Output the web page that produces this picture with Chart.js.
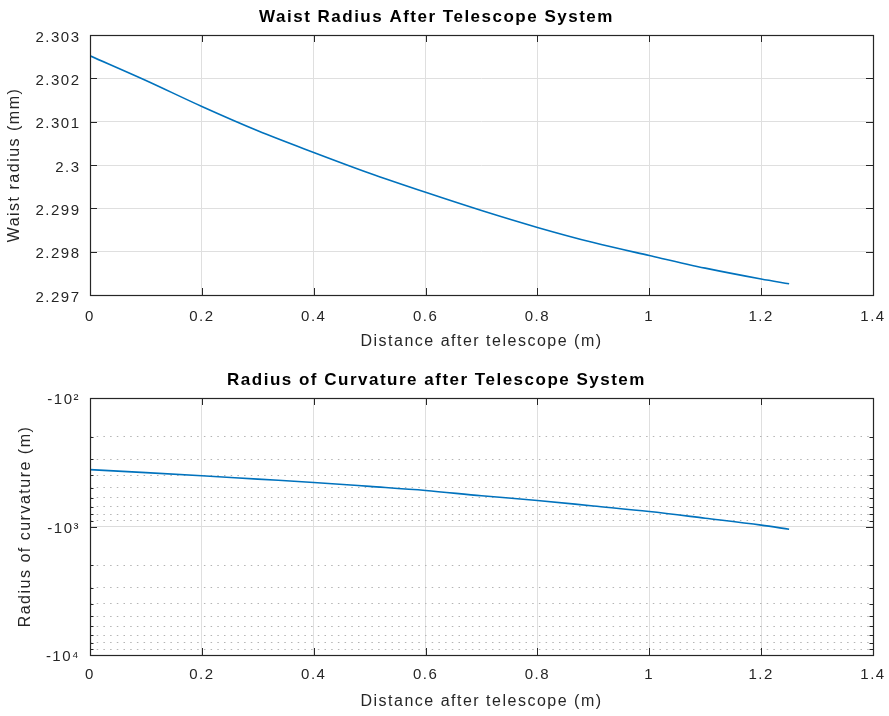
<!DOCTYPE html>
<html><head><meta charset="utf-8">
<script src="https://cdn.jsdelivr.net/npm/chart.js@4.4.1/dist/chart.umd.min.js"></script>
<style>
html,body{margin:0;padding:0;background:#fff;}
.box{position:absolute;left:0;width:889px;height:358px;}
</style></head><body>
<div class="box" style="top:0"><canvas id="c1"></canvas></div>
<div class="box" style="top:358px"><canvas id="c2"></canvas></div>
<script>
// ---- data ----
const distance = [0, 0.1, 0.2, 0.3, 0.4, 0.5, 0.6, 0.7, 0.8, 0.9, 1.0, 1.1, 1.2, 1.25];
const waistRadius = [2.30252, 2.30195, 2.30135, 2.30079, 2.30029, 2.29981, 2.29937, 2.29895, 2.29856, 2.29821, 2.29791, 2.29762, 2.29737, 2.29726];
const curvatureRadius = [-361, -381, -403, -428, -454, -487, -524, -577, -627, -692, -764, -862, -976, -1050];
const xTicks = [0, 0.2, 0.4, 0.6, 0.8, 1, 1.2, 1.4];
const waistTicks = [2.297, 2.298, 2.299, 2.3, 2.301, 2.302, 2.303];
const curvatureTicks = [-100, -200, -300, -400, -500, -600, -700, -800, -900,
                        -1000, -2000, -3000, -4000, -5000, -6000, -7000, -8000, -9000, -10000];
const curvatureMajor = [-100, -1000, -10000];
const curvatureLabels = ['-10\u00B2', '-10\u00B3', '-10\u2074'];

const FONT = "'Liberation Sans', Helvetica, Arial, sans-serif";
const TXT = '#262626';
const fmt = v => String(Number(v.toFixed(4)));

const matlabFrame = {
  id: 'matlabFrame',
  beforeDraw(chart) { chart.ctx.letterSpacing = '1.5px'; },
  afterDraw(chart) {
    const {ctx, chartArea: a, scales} = chart;
    const x = scales.x, y = scales.y;
    ctx.save();
    ctx.strokeStyle = '#262626';
    ctx.lineWidth = 1;
    ctx.beginPath();
    x.ticks.forEach(t => {
      if (t.value <= x.min || t.value >= x.max) return;
      const px = Math.round(x.getPixelForValue(t.value)) + 0.5;
      ctx.moveTo(px, a.top); ctx.lineTo(px, a.top + 7);
      ctx.moveTo(px, a.bottom); ctx.lineTo(px, a.bottom - 7);
    });
    y.ticks.forEach(t => {
      if (t.value <= y.min || t.value >= y.max) return;
      const py = Math.round(y.getPixelForValue(t.value)) + 0.5;
      const len = (y.type === 'logarithmic' && !t.major) ? 3.5 : 7;
      ctx.moveTo(a.left, py); ctx.lineTo(a.left + len, py);
      ctx.moveTo(a.right, py); ctx.lineTo(a.right - len, py);
    });
    ctx.stroke();
    ctx.lineWidth = 1.2;
    ctx.strokeRect(Math.round(a.left) + 0.5, Math.round(a.top) + 0.5,
                   Math.round(a.right - a.left), Math.round(a.bottom - a.top));
    ctx.restore();
  }
};

function xScale(tickPad, titlePadBottom, axisHeight) {
  return {
    type: 'linear', min: 0, max: 1.4,
    afterBuildTicks: s => { s.ticks = xTicks.map(v => ({value: v})); },
    afterFit: s => { s.height = axisHeight; s.paddingLeft = 0; s.paddingRight = 0; },
    grid: {color: '#dfdfdf', drawTicks: false, lineWidth: 1},
    border: {display: false},
    ticks: {autoSkip: false, maxRotation: 0, padding: tickPad, color: TXT,
            font: {family: FONT, size: 15}, callback: v => fmt(v)},
    title: {display: true, text: 'Distance after telescope (m)', color: TXT,
            font: {family: FONT, size: 16}, padding: {top: 0, bottom: titlePadBottom}}
  };
}

function titleOpts(text, padTop, padBottom) {
  return {display: true, text, color: '#000',
          font: {family: FONT, size: 17, weight: 'bold'},
          padding: {top: padTop, bottom: padBottom}};
}

new Chart(document.getElementById('c1'), {
  type: 'line',
  data: {datasets: [{
    data: distance.map((d, i) => ({x: d, y: waistRadius[i]})),
    borderColor: '#0072BD', borderWidth: 1.6, pointRadius: 0,
    cubicInterpolationMode: 'monotone', fill: false
  }]},
  options: {
    responsive: true, maintainAspectRatio: false, animation: false,
    layout: {padding: {left: 0, right: 16, top: 0, bottom: 0}},
    plugins: {legend: {display: false}, tooltip: {enabled: false},
              title: titleOpts('Waist Radius After Telescope System', 7.3, 7.3)},
    scales: {
      x: xScale(13, 6.4, 63),
      y: {
        type: 'linear', min: 2.297, max: 2.303,
        afterBuildTicks: s => { s.ticks = waistTicks.map(v => ({value: v})); },
        afterFit: s => { s.width = 90; s.paddingTop = 0; s.paddingBottom = 0; },
        grid: {color: '#dfdfdf', drawTicks: false, lineWidth: 1},
        border: {display: false},
        ticks: {padding: 9.5, labelOffset: 2.5, color: TXT,
                font: {family: FONT, size: 15}, callback: v => fmt(v)},
        title: {display: true, text: 'Waist radius (mm)', color: TXT,
                font: {family: FONT, size: 16}, padding: {top: 5.4, bottom: 0}}
      }
    }
  },
  plugins: [matlabFrame]
});

new Chart(document.getElementById('c2'), {
  type: 'line',
  data: {datasets: [{
    // negative radii plotted by magnitude on a reversed log axis (labels keep the sign)
    data: distance.map((d, i) => ({x: d, y: Math.abs(curvatureRadius[i])})),
    borderColor: '#0072BD', borderWidth: 1.6, pointRadius: 0,
    cubicInterpolationMode: 'monotone', fill: false
  }]},
  options: {
    responsive: true, maintainAspectRatio: false, animation: false,
    layout: {padding: {left: 0, right: 16, top: 0, bottom: 0}},
    plugins: {legend: {display: false}, tooltip: {enabled: false},
              title: titleOpts('Radius of Curvature after Telescope System', 12.3, 7.3)},
    scales: {
      x: xScale(10.5, 4.9, 61),
      y: {
        type: 'logarithmic', reverse: true,
        min: Math.abs(curvatureMajor[0]), max: Math.abs(curvatureMajor[curvatureMajor.length - 1]),
        afterBuildTicks: s => {
          s.ticks = curvatureTicks.map(v => ({value: Math.abs(v), major: curvatureMajor.includes(v)}));
        },
        afterFit: s => { s.width = 90; s.paddingTop = 0; s.paddingBottom = 0; },
        grid: {drawTicks: false, lineWidth: 1,
               color: c => (c.tick && !c.tick.major) ? '#b4b4b4' : '#dcdcdc'},
        border: {display: false,
                 dash: c => (c.tick && !c.tick.major) ? [1.5, 5.2] : []},
        ticks: {autoSkip: false, padding: 10, labelOffset: 2, color: TXT,
                font: {family: FONT, size: 15},
                callback: (v) => {
                  const k = curvatureMajor.indexOf(-v);
                  return k >= 0 ? curvatureLabels[k] : '';
                }},
        title: {display: true, text: 'Radius of curvature (m)', color: TXT,
                font: {family: FONT, size: 16}, padding: {top: 16.4, bottom: 0}}
      }
    }
  },
  plugins: [matlabFrame]
});
</script></body></html>
